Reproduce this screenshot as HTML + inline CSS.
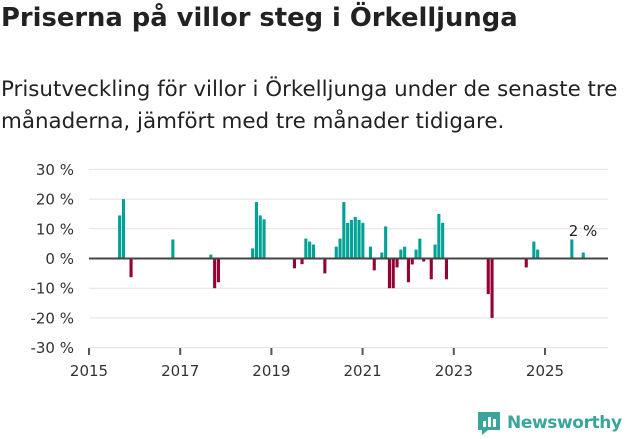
<!DOCTYPE html>
<html><head><meta charset="utf-8"><style>
body{margin:0;background:#fff;width:631px;height:439px;overflow:hidden;font-family:"DejaVu Sans","Liberation Sans",sans-serif;color:#222}
h1{position:absolute;left:1px;top:3px;margin:0;font-size:25.8px;font-weight:bold;white-space:nowrap}
p{position:absolute;left:1px;top:74px;margin:0;font-size:21.4px;line-height:32px;width:630px;color:#222;white-space:nowrap}
svg{position:absolute;left:0;top:0}
</style></head><body>
<h1>Priserna på villor steg i Örkelljunga</h1>
<p>Prisutveckling för villor i Örkelljunga under de senaste tre<br>månaderna, jämfört med tre månader tidigare.</p>
<svg id="c" width="631" height="439"></svg>
<script>
const months=["2015-09","2015-10","2015-12","2016-11","2017-09","2017-10","2017-11","2018-08","2018-09","2018-10","2018-11","2019-07","2019-09","2019-10","2019-11","2019-12","2020-03","2020-06","2020-07","2020-08","2020-09","2020-10","2020-11","2020-12","2021-01","2021-03","2021-04","2021-06","2021-07","2021-08","2021-09","2021-10","2021-11","2021-12","2022-01","2022-02","2022-03","2022-04","2022-05","2022-07","2022-08","2022-09","2022-10","2022-11","2023-10","2023-11","2024-08","2024-10","2024-11","2025-08","2025-11"];
const values=[14.5,20,-6.3,6.4,1.3,-10,-8,3.4,19,14.5,13.2,-3.3,-1.9,6.7,5.7,4.7,-5,4,6.7,19,12,13,14,13,12,4,-4,2,10.8,-10,-10,-3,3,4,-8,-2,3,6.7,-1,-7,4.7,15,12,-7,-12,-20,-3,5.7,3,6.4,2];
const yTicks=[30,20,10,0,-10,-20,-30];
const xTicks=[2015,2017,2019,2021,2023,2025];
const NS="http://www.w3.org/2000/svg",svg=document.getElementById('c');
const y0=258.5,ppu=2.97,x0=89,ppm=3.8;
const yS=v=>y0-v*ppu;
const xS=m=>x0+m*ppm;
function mk(t,a){const e=document.createElementNS(NS,t);for(const k in a)e.setAttribute(k,a[k]);svg.appendChild(e);return e;}
yTicks.forEach(t=>{
 const g=mk('line',{x1:89,x2:608,y1:yS(t),y2:yS(t),stroke:'#e2e2e2','stroke-width':1});
 
 
 const l=mk('text',{x:74,y:yS(t)+5.5,'text-anchor':'end','font-size':15,fill:'#333'});
 l.textContent=t+' %';
 
 
});
xTicks.forEach(yr=>{
 const x=xS((yr-2015)*12);
 const t=mk('line',{x1:x,x2:x,y1:348,y2:355,stroke:'#555','stroke-width':2});
 
 
 const l=mk('text',{x:x,y:376,'text-anchor':'middle','font-size':15,fill:'#333'});
 l.textContent=yr;
 
 
});
months.forEach((d,i)=>{
 const [yy,mm]=d.split('-').map(Number);
 const m=(yy-2015)*12+(mm-1);
 const v=values[i];
 const x=xS(m)-1.3;
 const r=mk('rect',{x:x,y:Math.min(yS(v),y0),width:3.1,height:Math.abs(v)*ppu,fill:v>=0?'#00a296':'#960035'});
 
 
});
const z=mk('line',{x1:89,x2:608,y1:y0,y2:y0,stroke:'#444','stroke-width':2});


const lab=mk('text',{x:583,y:236,'text-anchor':'middle','font-size':15,fill:'#222'});
lab.textContent=values[values.length-1]+' %';


</script>
<div style="position:absolute;left:476px;top:409px;display:flex;align-items:center">
<svg width="26" height="28" style="position:static"><path d="M2 3h22v18H12l-6 5v-5H2z" fill="#3aa59a"/><rect x="7" y="12" width="3" height="6" fill="#fff"/><rect x="12" y="8" width="3" height="10" fill="#fff"/><rect x="17" y="10" width="3" height="8" fill="#fff"/></svg>
<span style="font-size:17px;font-weight:bold;color:#3aa59a;margin-left:5px;letter-spacing:-0.4px">Newsworthy</span></div>
</body></html>
